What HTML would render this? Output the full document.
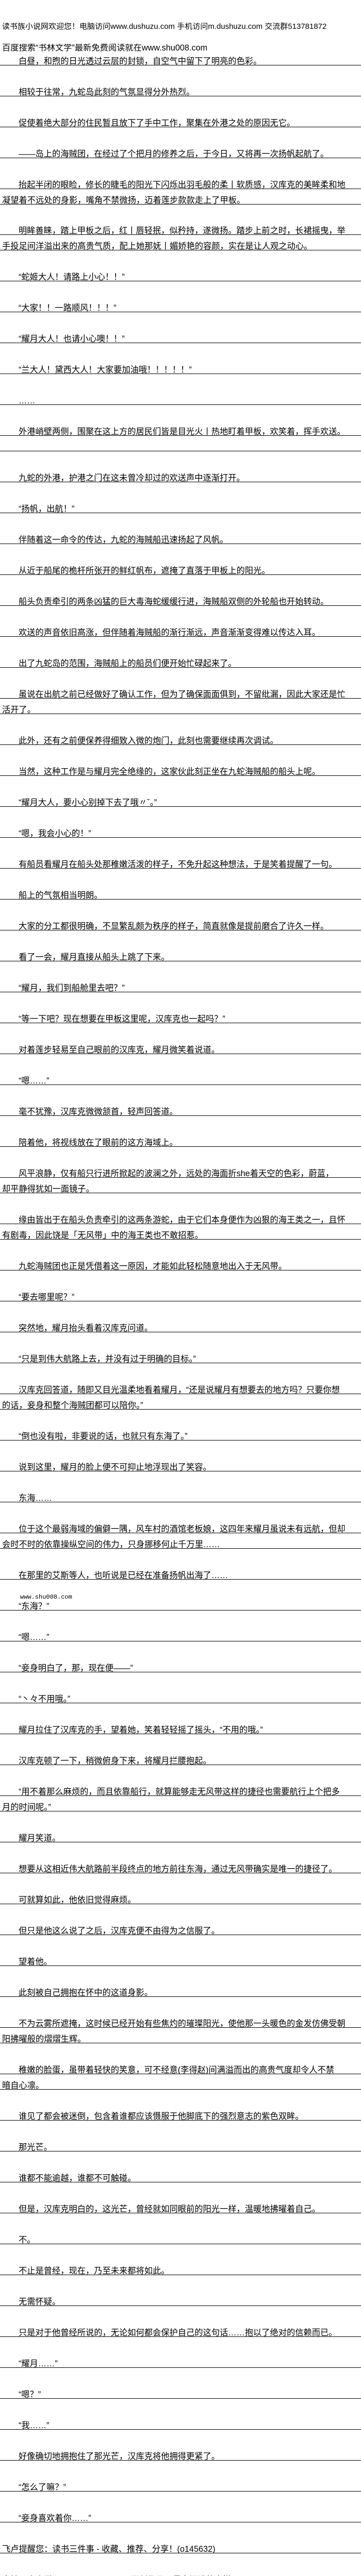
<!DOCTYPE html>
<html><head><meta charset="utf-8">
<style>
html,body{margin:0;padding:0;background:#fff;width:700px;height:5099px;overflow:hidden;}
#w{position:relative;width:700px;height:5099px;overflow:hidden;contain:strict;color:#000;
font-family:"Liberation Sans","Noto Sans CJK SC","WenQuanYi Zen Hei",sans-serif;font-size:16.25px;}
.l{position:absolute;left:0;width:700px;height:29px;border-bottom:1px solid #000;white-space:nowrap;overflow:hidden;}
.l span{position:absolute;top:14px;left:4px;line-height:16px;}
.l.i span{left:36px;}
.t{position:absolute;left:4px;line-height:16px;height:16px;white-space:nowrap;overflow:hidden;}
</style></head><body><div id="w">
<div class="t" style="top:44px;font-size:15px;width:640px">读书族小说网欢迎您！电脑访问www.dushuzu.com 手机访问m.dushuzu.com 交流群513781872</div>
<div class="t" style="top:85px">百度搜索“书林文学”最新免费阅读就在www.shu008.com</div>

<div class="l i" style="top:97px"><span>白昼，和煦的日光透过云层的封锁，自空气中留下了明亮的色彩。</span></div>
<div class="l i" style="top:157px"><span>相较于往常，九蛇岛此刻的气氛显得分外热烈。</span></div>
<div class="l i" style="top:217px"><span>促使着绝大部分的住民暂且放下了手中工作，聚集在外港之处的原因无它。</span></div>
<div class="l i" style="top:277px"><span>——岛上的海贼团，在经过了个把月的修养之后，于今日，又将再一次扬帆起航了。</span></div>
<div class="l i" style="top:337px"><span>抬起半闭的眼睑，修长的睫毛的阳光下闪烁出羽毛般的柔丨软质感，汉库克的美眸柔和地</span></div>
<div class="l" style="top:367px"><span>凝望着不远处的身影，嘴角不禁微扬，迈着莲步款款走上了甲板。</span></div>
<div class="l i" style="top:426px"><span>明眸善睐，踏上甲板之后，红丨唇轻抿，似矜持，遂微扬。踏步上前之时，长裙摇曳，举</span></div>
<div class="l" style="top:456px"><span>手投足间洋溢出来的高贵气质，配上她那妩丨媚娇艳的容颜，实在是让人观之动心。</span></div>
<div class="l i" style="top:516px"><span>“蛇姬大人！请路上小心！！”</span></div>
<div class="l i" style="top:576px"><span>“大家！！一路顺风！！！”</span></div>
<div class="l i" style="top:636px"><span>“耀月大人！也请小心噢！！”</span></div>
<div class="l i" style="top:696px"><span>“兰大人！黛西大人！大家要加油哦！！！！！”</span></div>
<div class="l i" style="top:756px"><span>……</span></div>
<div class="l i" style="top:816px"><span>外港峭壁两侧，围聚在这上方的居民们皆是目光火丨热地盯着甲板，欢笑着，挥手欢送。</span></div>
<div class="l" style="top:846px"></div>
<div class="l i" style="top:906px"><span>九蛇的外港，护港之门在这未曾冷却过的欢送声中逐渐打开。</span></div>
<div class="l i" style="top:966px"><span>“扬帆，出航！”</span></div>
<div class="l i" style="top:1026px"><span>伴随着这一命令的传达，九蛇的海贼船迅速扬起了风帆。</span></div>
<div class="l i" style="top:1086px"><span>从近于船尾的桅杆所张开的鲜红帆布，遮掩了直落于甲板上的阳光。</span></div>
<div class="l i" style="top:1146px"><span>船头负责牵引的两条凶猛的巨大毒海蛇缓缓行进，海贼船双侧的外轮船也开始转动。</span></div>
<div class="l i" style="top:1206px"><span>欢送的声音依旧高涨，但伴随着海贼船的渐行渐远，声音渐渐变得难以传达入耳。</span></div>
<div class="l i" style="top:1266px"><span>出了九蛇岛的范围，海贼船上的船员们便开始忙碌起来了。</span></div>
<div class="l i" style="top:1326px"><span>虽说在出航之前已经做好了确认工作，但为了确保面面俱到，不留纰漏，因此大家还是忙</span></div>
<div class="l" style="top:1356px"><span>活开了。</span></div>
<div class="l i" style="top:1416px"><span>此外，还有之前便保养得细致入微的炮门，此刻也需要继续再次调试。</span></div>
<div class="l i" style="top:1476px"><span>当然，这种工作是与耀月完全绝缘的，这家伙此刻正坐在九蛇海贼船的船头上呢。</span></div>
<div class="l i" style="top:1536px"><span>“耀月大人，要小心别掉下去了哦〃ˇ。”</span></div>
<div class="l i" style="top:1596px"><span>“嗯，我会小心的！”</span></div>
<div class="l i" style="top:1656px"><span>有船员看耀月在船头处那稚嫩活泼的样子，不免升起这种想法，于是笑着提醒了一句。</span></div>
<div class="l i" style="top:1716px"><span>船上的气氛相当明朗。</span></div>
<div class="l i" style="top:1776px"><span>大家的分工都很明确，不显繁乱颇为秩序的样子，简直就像是提前磨合了许久一样。</span></div>
<div class="l i" style="top:1836px"><span>看了一会，耀月直接从船头上跳了下来。</span></div>
<div class="l i" style="top:1896px"><span>“耀月，我们到船舱里去吧？”</span></div>
<div class="l i" style="top:1956px"><span>“等一下吧？现在想要在甲板这里呢，汉库克也一起吗？”</span></div>
<div class="l i" style="top:2016px"><span>对着莲步轻易至自己眼前的汉库克，耀月微笑着说道。</span></div>
<div class="l i" style="top:2076px"><span>“嗯……”</span></div>
<div class="l i" style="top:2136px"><span>毫不犹豫，汉库克微微颔首，轻声回答道。</span></div>
<div class="l i" style="top:2196px"><span>陪着他，将视线放在了眼前的这方海域上。</span></div>
<div class="l i" style="top:2256px"><span>风平浪静，仅有船只行进所掀起的波澜之外，远处的海面折she着天空的色彩，蔚蓝，</span></div>
<div class="l" style="top:2286px"><span>却平静得犹如一面镜子。</span></div>
<div class="l i" style="top:2346px"><span>缘由皆出于在船头负责牵引的这两条游蛇，由于它们本身便作为凶狠的海王类之一，且怀</span></div>
<div class="l" style="top:2376px"><span>有剧毒，因此饶是「无风带」中的海王类也不敢招惹。</span></div>
<div class="l i" style="top:2436px"><span>九蛇海贼团也正是凭借着这一原因，才能如此轻松随意地出入于无风带。</span></div>
<div class="l i" style="top:2496px"><span>“要去哪里呢？”</span></div>
<div class="l i" style="top:2556px"><span>突然地，耀月抬头看着汉库克问道。</span></div>
<div class="l i" style="top:2616px"><span>“只是到伟大航路上去，并没有过于明确的目标。”</span></div>
<div class="l i" style="top:2676px"><span>汉库克回答道，随即又目光温柔地看着耀月，“还是说耀月有想要去的地方吗？只要你想</span></div>
<div class="l" style="top:2706px"><span>的话，妾身和整个海贼团都可以陪你。”</span></div>
<div class="l i" style="top:2766px"><span>“倒也没有啦，非要说的话，也就只有东海了。”</span></div>
<div class="l i" style="top:2826px"><span>说到这里，耀月的脸上便不可抑止地浮现出了笑容。</span></div>
<div class="l i" style="top:2886px"><span>东海……</span></div>
<div class="l i" style="top:2946px"><span>位于这个最弱海域的偏僻一隅，风车村的酒馆老板娘，这四年来耀月虽说未有远航，但却</span></div>
<div class="l" style="top:2976px"><span>会时不时的依靠操纵空间的伟力，只身挪移何止千万里……</span></div>
<div class="l i" style="top:3036px"><span>在那里的艾斯等人，也听说是已经在准备扬帆出海了……</span></div>
<div class="t" style="top:3094px;left:39px;font-size:12px;line-height:12px;height:12px;font-family:'Liberation Mono',monospace">www.shu008.com</div>
<div class="l i" style="top:3096px"><span>“东海？”</span></div>
<div class="l i" style="top:3156px"><span>“嗯……”</span></div>
<div class="l i" style="top:3216px"><span>“妾身明白了，那，现在便——”</span></div>
<div class="l i" style="top:3276px"><span>“丶々不用哦。”</span></div>
<div class="l i" style="top:3336px"><span>耀月拉住了汉库克的手，望着她，笑着轻轻摇了摇头，“不用的哦。”</span></div>
<div class="l i" style="top:3396px"><span>汉库克顿了一下，稍微俯身下来，将耀月拦腰抱起。</span></div>
<div class="l i" style="top:3456px"><span>“用不着那么麻烦的，而且依靠船行，就算能够走无风带这样的捷径也需要航行上个把多</span></div>
<div class="l" style="top:3486px"><span>月的时间呢。”</span></div>
<div class="l i" style="top:3546px"><span>耀月笑道。</span></div>
<div class="l i" style="top:3606px"><span>想要从这相近伟大航路前半段终点的地方前往东海，通过无风带确实是唯一的捷径了。</span></div>
<div class="l i" style="top:3666px"><span>可就算如此，他依旧觉得麻烦。</span></div>
<div class="l i" style="top:3726px"><span>但只是他这么说了之后，汉库克便不由得为之信服了。</span></div>
<div class="l i" style="top:3786px"><span>望着他。</span></div>
<div class="l i" style="top:3846px"><span>此刻被自己拥抱在怀中的这道身影。</span></div>
<div class="l i" style="top:3906px"><span>不为云雾所遮掩，这时候已经开始有些焦灼的璀璨阳光，使他那一头暖色的金发仿佛受朝</span></div>
<div class="l" style="top:3936px"><span>阳拂曜般的熠熠生辉。</span></div>
<div class="l i" style="top:3996px"><span>稚嫩的脸蛋，虽带着轻快的笑意，可不经意(李得赵)间满溢而出的高贵气度却令人不禁</span></div>
<div class="l" style="top:4026px"><span>暗自心凛。</span></div>
<div class="l i" style="top:4086px"><span>谁见了都会被迷倒，包含着谁都应该慑服于他脚底下的强烈意志的紫色双眸。</span></div>
<div class="l i" style="top:4146px"><span>那光芒。</span></div>
<div class="l i" style="top:4206px"><span>谁都不能逾越，谁都不可触碰。</span></div>
<div class="l i" style="top:4266px"><span>但是，汉库克明白的，这光芒，曾经就如同眼前的阳光一样，温暖地拂曜着自己。</span></div>
<div class="l i" style="top:4326px"><span>不。</span></div>
<div class="l i" style="top:4386px"><span>不止是曾经，现在，乃至未来都将如此。</span></div>
<div class="l i" style="top:4446px"><span>无需怀疑。</span></div>
<div class="l i" style="top:4506px"><span>只是对于他曾经所说的，无论如何都会保护自己的这句话……抱以了绝对的信赖而已。</span></div>
<div class="l i" style="top:4566px"><span>“耀月……”</span></div>
<div class="l i" style="top:4626px"><span>“嗯？”</span></div>
<div class="l i" style="top:4686px"><span>“我……”</span></div>
<div class="l i" style="top:4746px"><span>好像确切地拥抱住了那光芒，汉库克将他拥得更紧了。</span></div>
<div class="l i" style="top:4806px"><span>“怎么了嘛？”</span></div>
<div class="l i" style="top:4866px"><span>“妾身喜欢着你……”</span></div>
<div class="l" style="top:4926px"><span>飞卢提醒您：读书三件事 - 收藏、推荐、分享！(o145632)</span></div>
<div class="l" style="top:4986px"><span>支持飞卢小说网(http://b.faloo.com)原创作品，尽享阅读的喜悦！1</span></div>
<div class="l" style="top:5016px"><span>51103010703</span></div>
<div class="t" style="top:5077px">百度搜索“书林文学”最新免费阅读就在www.shu008.com</div>
</div></body></html>
